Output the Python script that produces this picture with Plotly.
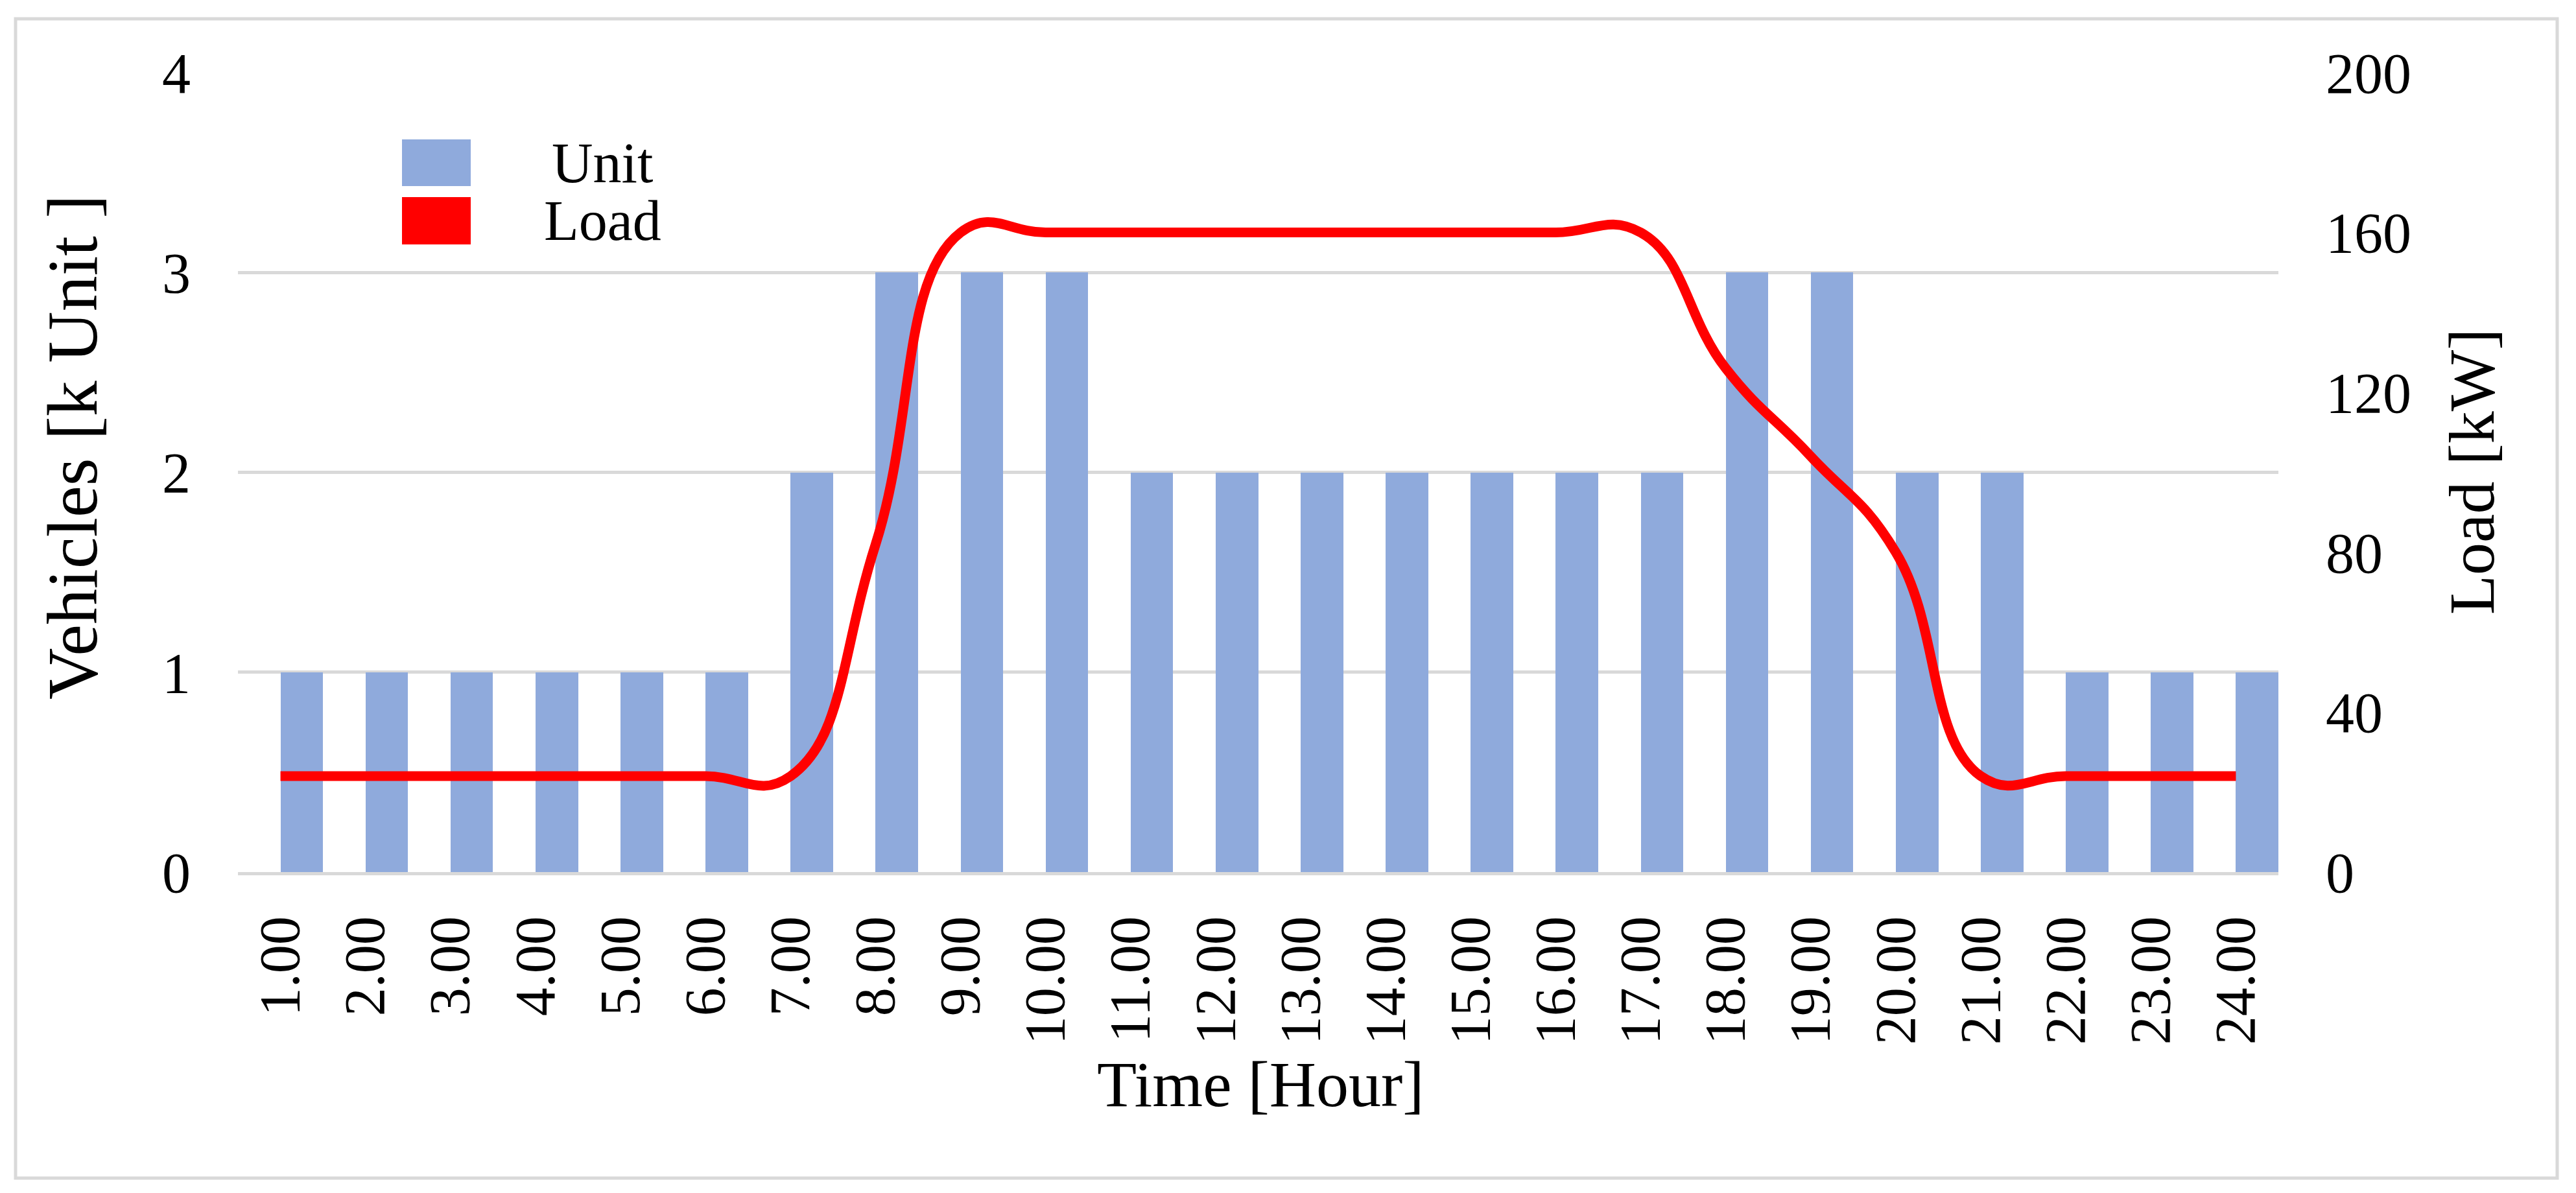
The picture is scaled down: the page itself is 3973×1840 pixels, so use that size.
import plotly.graph_objects as go

# ---------------- data ----------------
hours = list(range(1, 25))
hour_labels = [f"{h:.2f}" for h in hours]
vehicles_k = [1, 1, 1, 1, 1, 1, 2, 3, 3, 3, 2, 2, 2, 2, 2, 2, 2, 3, 3, 2, 2, 1, 1, 1]
load_kw = [24, 24, 24, 24, 24, 24, 24, 82, 160, 160, 160, 160, 160, 160, 160, 160, 160,
           126, 104, 80, 24, 24, 24, 24]
y_left_ticks = [0, 1, 2, 3, 4]
y_right_ticks = [0, 40, 80, 120, 160, 200]

# ---------------- layout constants (reference pixels) ----------------
W, H = 3973, 1840
OFF = 8                                  # page body margin in the browser
PL, PR, PT, PB = 367, 3514, 112, 1345    # plot-area edges in the reference
PW, PH = PR - PL, PB - PT

def px(x):
    return (x - PL) / PW

def py(y):
    return (PB - y) / PH

FONT = "Liberation Serif"
BAR_COLOR = "#8FAADC"
LINE_COLOR = "#FF0000"
GRID = "#D9D9D9"

fig = go.Figure()
fig.add_trace(go.Bar(
    x=hours, y=vehicles_k, name="Unit",
    offset=0, width=0.5,
    marker=dict(color=BAR_COLOR, line=dict(width=0)),
    showlegend=False, yaxis="y",
))
fig.add_trace(go.Scatter(
    x=hours, y=load_kw, name="Load", mode="lines",
    line=dict(color=LINE_COLOR, width=15, shape="spline", smoothing=1.3),
    showlegend=False, yaxis="y2",
))

fig.update_layout(
    template="none",
    width=W - 2 * OFF, height=H - 2 * OFF,
    margin=dict(l=PL - OFF, r=W - OFF - PR, t=PT - OFF, b=H - OFF - PB, pad=0),
    paper_bgcolor="white", plot_bgcolor="white",
    font=dict(family=FONT, size=88, color="black"),
    bargap=0,
    xaxis=dict(
        range=[0.5, 24.5], tickmode="array", tickvals=hours, ticktext=hour_labels,
        tickangle=-90, ticks="", showgrid=False, zeroline=False,
        showline=True, linecolor=GRID, linewidth=5,
        ticklabelstandoff=28, automargin=False,
        tickfont=dict(family=FONT, size=88, color="black"),
    ),
    yaxis=dict(
        range=[0, 4], tickmode="array", tickvals=y_left_ticks,
        ticks="", showgrid=True, gridcolor=GRID, gridwidth=5,
        zeroline=False, showline=False, ticklabelstandoff=72, automargin=False,
        tickfont=dict(family=FONT, size=88, color="black"),
    ),
    yaxis2=dict(
        range=[0, 200], tickmode="array", tickvals=y_right_ticks,
        overlaying="y", side="right", ticks="", showgrid=False,
        zeroline=False, showline=False, ticklabelstandoff=72, automargin=False,
        tickfont=dict(family=FONT, size=88, color="black"),
    ),
)

# axis titles
fig.add_annotation(text="Vehicles [k Unit ]", xref="paper", yref="paper",
                   x=px(112), y=py(690), textangle=-90, showarrow=False,
                   xanchor="center", yanchor="middle",
                   font=dict(family=FONT, size=110, color="black"))
fig.add_annotation(text="Load [kW]", xref="paper", yref="paper",
                   x=px(3812), y=py(728), textangle=-90, showarrow=False,
                   xanchor="center", yanchor="middle",
                   font=dict(family=FONT, size=100, color="black"))
fig.add_annotation(text="Time [Hour]", xref="paper", yref="paper",
                   x=px(1945), y=py(1672), showarrow=False,
                   xanchor="center", yanchor="middle",
                   font=dict(family=FONT, size=100, color="black"))

# legend (swatches + labels)
legend_items = [("Unit", BAR_COLOR, 215, 287), ("Load", LINE_COLOR, 304, 377)]
for label, color, top, bottom in legend_items:
    fig.add_shape(type="rect", xref="paper", yref="paper",
                  x0=px(620), x1=px(726), y0=py(bottom), y1=py(top),
                  fillcolor=color, line=dict(width=0))
    fig.add_annotation(text=label, xref="paper", yref="paper",
                       x=px(929), y=py((top + bottom) / 2), showarrow=False,
                       xanchor="center", yanchor="middle",
                       font=dict(family=FONT, size=88, color="black"))

# outer chart border
fig.add_shape(type="rect", xref="paper", yref="paper",
              x0=px(24), x1=px(3944), y0=py(1817), y1=py(29),
              fillcolor="rgba(0,0,0,0)", line=dict(color=GRID, width=5))

fig.write_html("out.html")
